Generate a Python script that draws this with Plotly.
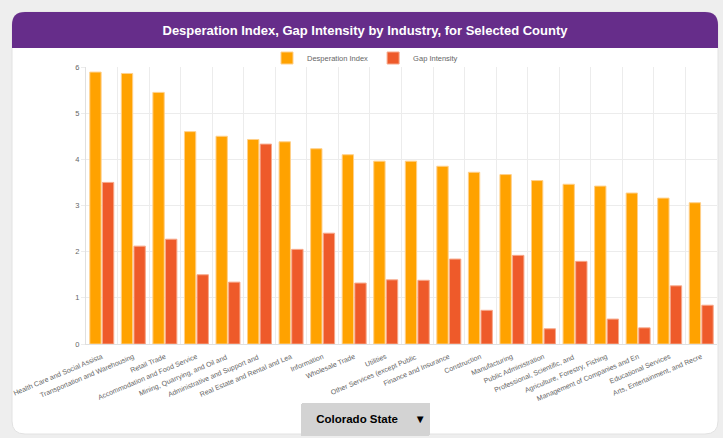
import plotly.graph_objects as go

industries = [
    "Health Care and Social Assista", "Transportation and Warehousing", "Retail Trade",
    "Accommodation and Food Service", "Mining, Quarrying, and Oil and ",
    "Administrative and Support and ", "Real Estate and Rental and Lea", "Information",
    "Wholesale Trade", "Utilities", "Other Services (except Public ",
    "Finance and Insurance", "Construction", "Manufacturing", "Public Administration",
    "Professional, Scientific, and ", "Agriculture, Forestry, Fishing",
    "Management of Companies and En", "Educational Services", "Arts, Entertainment, and Recre",
]
desperation_index = [5.89, 5.86, 5.45, 4.60, 4.50, 4.43, 4.38, 4.23, 4.10, 3.96,
                     3.96, 3.85, 3.72, 3.67, 3.54, 3.46, 3.42, 3.27, 3.16, 3.06]
gap_intensity = [3.50, 2.12, 2.27, 1.50, 1.34, 4.33, 2.05, 2.40, 1.32, 1.39,
                 1.38, 1.84, 0.73, 1.92, 0.33, 1.79, 0.54, 0.35, 1.26, 0.84]
y_ticks = [0, 1, 2, 3, 4, 5, 6]
counties = ["Colorado State"]

W, H = 723, 438
L, R_EDGE, TOP, BOT = 86, 717, 67, 344
PW, PH = R_EDGE - L, BOT - TOP


def px(x):
    return (x - L) / PW


def py(y):
    return (BOT - y) / PH


fig = go.Figure()
fig.add_trace(go.Bar(
    name="Desperation Index", x=industries, y=desperation_index,
    marker=dict(color="#FFA200", line=dict(color="#FFD08A", width=1)),
))
fig.add_trace(go.Bar(
    name="Gap Intensity", x=industries, y=gap_intensity,
    marker=dict(color="#EE5A2A", line=dict(color="#F7A88A", width=1)),
))

# card background and header
x0, x1, y0, y1, hb, r = 12, 718, 12, 434, 48, 13
card_path = (
    f"M {px(x0)},{py(y0 + r)} Q {px(x0)},{py(y0)} {px(x0 + r)},{py(y0)} "
    f"L {px(x1 - r)},{py(y0)} Q {px(x1)},{py(y0)} {px(x1)},{py(y0 + r)} "
    f"L {px(x1)},{py(y1 - r)} Q {px(x1)},{py(y1)} {px(x1 - r)},{py(y1)} "
    f"L {px(x0 + r)},{py(y1)} Q {px(x0)},{py(y1)} {px(x0)},{py(y1 - r)} Z"
)
head_path = (
    f"M {px(x0)},{py(y0 + r)} Q {px(x0)},{py(y0)} {px(x0 + r)},{py(y0)} "
    f"L {px(x1 - r)},{py(y0)} Q {px(x1)},{py(y0)} {px(x1)},{py(y0 + r)} "
    f"L {px(x1)},{py(hb)} L {px(x0)},{py(hb)} Z"
)
shapes = [
    dict(type="path", path=card_path, xref="paper", yref="paper", fillcolor="white",
         line=dict(color="#e2e2e2", width=1), layer="below"),
    dict(type="path", path=head_path, xref="paper", yref="paper", fillcolor="#662D8A",
         line=dict(width=0), layer="below"),
]

fig.update_layout(
    width=W, height=H,
    margin=dict(l=L, r=W - R_EDGE, t=TOP, b=H - BOT, pad=0, autoexpand=False),
    paper_bgcolor="#EEEEEE",
    plot_bgcolor="rgba(0,0,0,0)",
    font=dict(family="Liberation Sans, Arial, sans-serif", color="#666666", size=8),
    barmode="group", bargap=0.2, bargroupgap=0.1,
    shapes=shapes,
    title=dict(
        text="<b>Desperation Index, Gap Intensity by Industry, for Selected County</b>",
        xref="container", yref="container", x=365 / W, y=1 - 30 / H,
        xanchor="center", yanchor="middle",
        font=dict(color="white", size=13, family="Liberation Sans, Arial, sans-serif"),
    ),
    legend=dict(
        orientation="h", xref="container", yref="container",
        x=365 / W, y=1 - 58 / H, xanchor="center", yanchor="middle",
        font=dict(size=7.5, color="#666666"), bgcolor="rgba(0,0,0,0)",
        itemwidth=30, traceorder="normal",
    ),
    xaxis=dict(
        type="category", tickson="boundaries", showgrid=True, gridcolor="#ececec",
        gridwidth=1, tickangle=-23, ticks="", showline=True, linecolor="#e0e0e0",
        tickfont=dict(size=7, color="#666666"), fixedrange=True, automargin=False,
        ticklabelstandoff=5,
    ),
    yaxis=dict(
        range=[0, 6], tickvals=y_ticks, showgrid=True, gridcolor="#ececec",
        zeroline=False, showline=True, linecolor="#e0e0e0", ticks="outside",
        ticklen=4, tickcolor="#ececec", tickfont=dict(size=7.5, color="#666666"),
        fixedrange=True, automargin=False,
    ),
    updatemenus=[dict(
        type="dropdown", direction="down", showactive=True, active=0,
        x=px(365.5), y=py(403), xanchor="center", yanchor="top",
        bgcolor="#D3D3D3", bordercolor="#D3D3D3", borderwidth=0,
        font=dict(size=11.5, color="black", family="Liberation Sans, Arial, sans-serif",
                  weight="bold"),
        pad=dict(t=0, b=0, l=0, r=0),
        buttons=[dict(label=f" {c} ", method="skip", args=[None]) for c in counties],
    )],
)

fig.write_html("out.html")
